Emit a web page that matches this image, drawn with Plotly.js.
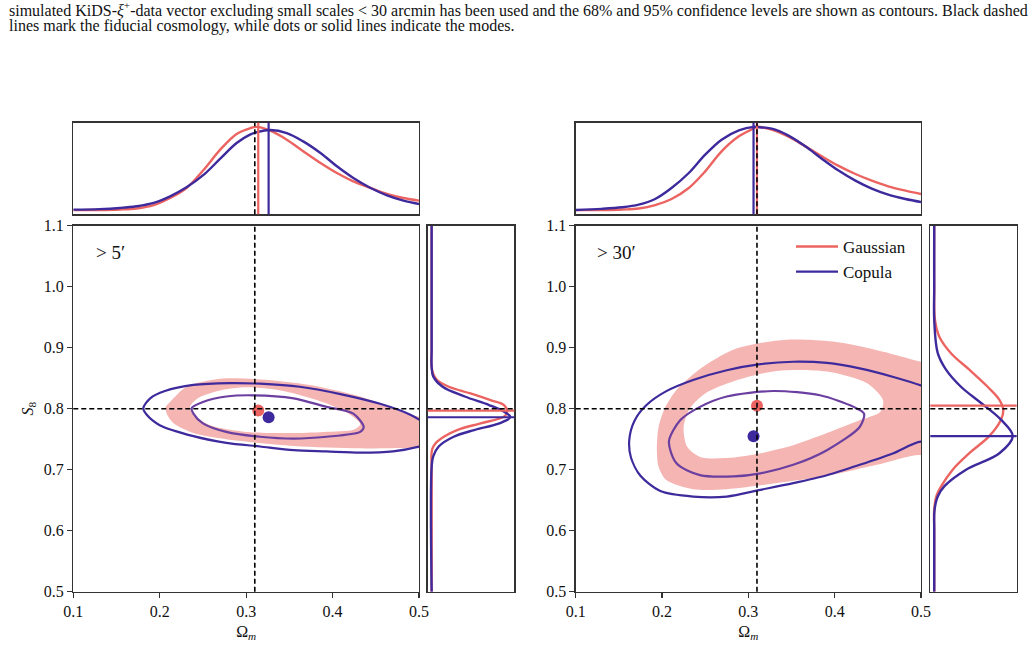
<!DOCTYPE html>
<html><head><meta charset="utf-8">
<script src="https://cdn.plot.ly/plotly-3.0.1.min.js"></script>
<style>html,body{margin:0;padding:0;background:#fff;}#chart{width:1035px;height:667px;}</style>
</head><body><div id="chart"></div>
<script>
// ---------- shared ----------
const omTicks = [0.1, 0.2, 0.3, 0.4, 0.5];
const omTickText = ['0.1', '0.2', '0.3', '0.4', '0.5'];
const s8Ticks = [0.5, 0.6, 0.7, 0.8, 0.9, 1.0, 1.1];
const s8TickText = ['0.5', '0.6', '0.7', '0.8', '0.9', '1.0', '1.1'];
const fiducialOm = 0.31;
const fiducialS8 = 0.80;
const panelLabels = ['&gt; 5′', '&gt; 30′'];
const seriesNames = ['Gaussian', 'Copula'];

// ---------- left panel (> 5') ----------
const L_modeGauss = [0.314, 0.797];
const L_modeCopula = [0.326, 0.786];
// top marginal (Omega_m)
const L_topOm = [0.10, 0.13, 0.154, 0.173, 0.193, 0.212, 0.231, 0.251, 0.270, 0.289, 0.305, 0.312, 0.328, 0.347, 0.366, 0.386, 0.405, 0.424, 0.444, 0.463, 0.482, 0.50];
const L_topGauss = [0.0, 0.002, 0.008, 0.02, 0.06, 0.146, 0.266, 0.486, 0.726, 0.914, 0.986, 1.0, 0.954, 0.846, 0.707, 0.566, 0.446, 0.346, 0.266, 0.194, 0.146, 0.114];
const L_topCopula = [0.006, 0.012, 0.026, 0.046, 0.086, 0.166, 0.274, 0.426, 0.618, 0.806, 0.91, 0.935, 0.962, 0.926, 0.826, 0.686, 0.526, 0.386, 0.266, 0.178, 0.114, 0.074];
// right marginal (S8)
const L_sideS8Gauss = [0.5, 0.70, 0.733, 0.743, 0.754, 0.765, 0.776, 0.787, 0.795, 0.806, 0.814, 0.825, 0.836, 0.847, 0.864, 0.90, 1.1];
const L_sideGauss = [0, 0, 0.005, 0.048, 0.154, 0.323, 0.622, 0.919, 0.96, 0.919, 0.749, 0.494, 0.218, 0.069, 0.005, 0, 0];
const L_sideS8Copula = [0.5, 0.705, 0.722, 0.738, 0.754, 0.765, 0.776, 0.786, 0.795, 0.806, 0.82, 0.836, 0.853, 0.869, 0.90, 1.1];
const L_sideCopula = [0, 0, 0.02, 0.09, 0.28, 0.54, 0.86, 1.0, 0.92, 0.73, 0.42, 0.14, 0.02, 0, 0, 0];
// contours (closed paths)
const L_gauss95Om = [0.316, 0.374, 0.432, 0.486, 0.507, 0.507, 0.50, 0.432, 0.355, 0.277, 0.239, 0.216, 0.208, 0.207, 0.212, 0.231, 0.270, 0.316];
const L_gauss95S8 = [0.848, 0.839, 0.820, 0.792, 0.781, 0.732, 0.735, 0.735, 0.739, 0.750, 0.760, 0.776, 0.792, 0.803, 0.811, 0.836, 0.849, 0.848];
const L_gauss68Om = [0.300, 0.340, 0.380, 0.415, 0.432, 0.425, 0.390, 0.350, 0.300, 0.260, 0.240, 0.235, 0.245, 0.270, 0.300];
const L_gauss68S8 = [0.835, 0.830, 0.815, 0.795, 0.775, 0.766, 0.762, 0.760, 0.762, 0.772, 0.788, 0.803, 0.818, 0.830, 0.835];
const L_cop95Om = [0.316, 0.362, 0.409, 0.455, 0.490, 0.513, 0.515, 0.50, 0.470, 0.432, 0.393, 0.355, 0.316, 0.277, 0.239, 0.200, 0.185, 0.181, 0.189, 0.206, 0.239, 0.281, 0.316];
const L_cop95S8 = [0.841, 0.836, 0.824, 0.808, 0.790, 0.768, 0.745, 0.738, 0.730, 0.728, 0.730, 0.732, 0.738, 0.744, 0.755, 0.773, 0.790, 0.801, 0.817, 0.829, 0.839, 0.842, 0.841];
const L_cop68Om = [0.308, 0.355, 0.393, 0.424, 0.436, 0.432, 0.393, 0.355, 0.316, 0.277, 0.250, 0.239, 0.237, 0.250, 0.277, 0.308];
const L_cop68S8 = [0.822, 0.817, 0.803, 0.792, 0.770, 0.762, 0.754, 0.751, 0.754, 0.762, 0.776, 0.792, 0.801, 0.811, 0.820, 0.822];

// ---------- right panel (> 30') ----------
const R_modeGauss = [0.310, 0.805];
const R_modeCopula = [0.306, 0.755];
const R_topOm = [0.10, 0.13, 0.154, 0.173, 0.192, 0.211, 0.231, 0.250, 0.269, 0.289, 0.306, 0.310, 0.327, 0.346, 0.366, 0.385, 0.404, 0.424, 0.443, 0.462, 0.482, 0.50];
const R_topGauss = [0.0, 0.002, 0.008, 0.02, 0.06, 0.134, 0.266, 0.466, 0.706, 0.886, 0.98, 1.0, 0.966, 0.886, 0.766, 0.646, 0.534, 0.434, 0.354, 0.286, 0.234, 0.194];
const R_topCopula = [0.002, 0.015, 0.034, 0.066, 0.134, 0.266, 0.446, 0.666, 0.846, 0.958, 1.0, 0.998, 0.978, 0.898, 0.766, 0.618, 0.478, 0.354, 0.258, 0.186, 0.134, 0.098];
const R_sideS8Gauss = [0.5, 0.60, 0.634, 0.656, 0.673, 0.700, 0.727, 0.755, 0.782, 0.798, 0.815, 0.836, 0.864, 0.891, 0.918, 0.945, 1.0, 1.1];
const R_sideGauss = [0, 0, 0, 0.026, 0.09, 0.235, 0.447, 0.70, 0.85, 0.879, 0.828, 0.68, 0.447, 0.213, 0.065, 0.01, 0, 0];
const R_sideS8Copula = [0.5, 0.60, 0.634, 0.656, 0.673, 0.700, 0.727, 0.755, 0.782, 0.809, 0.836, 0.864, 0.891, 0.945, 1.0, 1.1];
const R_sideCopula = [0, 0, 0.004, 0.045, 0.13, 0.405, 0.83, 1.0, 0.85, 0.6, 0.34, 0.15, 0.045, 0, 0, 0];
const R_gauss95Om = [0.344, 0.398, 0.449, 0.50, 0.52, 0.52, 0.50, 0.449, 0.391, 0.333, 0.275, 0.236, 0.205, 0.196, 0.194, 0.196, 0.203, 0.217, 0.248, 0.287, 0.344];
const R_gauss95S8 = [0.913, 0.910, 0.896, 0.877, 0.870, 0.710, 0.724, 0.708, 0.690, 0.678, 0.668, 0.668, 0.683, 0.705, 0.732, 0.770, 0.800, 0.831, 0.869, 0.899, 0.913];
const R_gauss68Om = [0.333, 0.391, 0.437, 0.456, 0.453, 0.429, 0.391, 0.352, 0.314, 0.275, 0.244, 0.229, 0.225, 0.232, 0.250, 0.283, 0.333];
const R_gauss68S8 = [0.862, 0.861, 0.842, 0.814, 0.795, 0.781, 0.760, 0.740, 0.727, 0.719, 0.721, 0.738, 0.770, 0.800, 0.825, 0.845, 0.862];
const R_cop95Om = [0.352, 0.391, 0.429, 0.468, 0.50, 0.53, 0.53, 0.50, 0.468, 0.429, 0.391, 0.352, 0.314, 0.275, 0.236, 0.198, 0.175, 0.164, 0.162, 0.168, 0.182, 0.204, 0.236, 0.275, 0.314, 0.352];
const R_cop95S8 = [0.877, 0.875, 0.866, 0.852, 0.838, 0.820, 0.735, 0.746, 0.727, 0.708, 0.691, 0.678, 0.667, 0.656, 0.656, 0.665, 0.690, 0.720, 0.748, 0.780, 0.806, 0.828, 0.847, 0.863, 0.873, 0.877];
const R_cop68Om = [0.329, 0.383, 0.422, 0.434, 0.429, 0.391, 0.352, 0.314, 0.283, 0.244, 0.217, 0.208, 0.221, 0.244, 0.275, 0.329];
const R_cop68S8 = [0.829, 0.822, 0.803, 0.792, 0.770, 0.732, 0.708, 0.694, 0.689, 0.691, 0.710, 0.746, 0.781, 0.803, 0.820, 0.829];

// ---------- styles ----------
const RED = '#EC6461';
const PURPLE = '#3E2A9C';
const PURPLE68 = '#6B3FA0';
const PINK = '#F4B5B3';
const FONT = 'Liberation Serif, Times New Roman, serif';
const DASH = '5px,3px';

function mainTraces(xa, ya, g95o, g95s, g68o, g68s, c95o, c95s, c68o, c68s, mG, mC) {
  return [
    {x: g95o, y: g95s, xaxis: xa, yaxis: ya, mode: 'lines', fill: 'toself', fillcolor: PINK,
     line: {width: 0, color: PINK, shape: 'spline', smoothing: 0.8}, showlegend: false, hoverinfo: 'skip'},
    {x: g68o, y: g68s, xaxis: xa, yaxis: ya, mode: 'lines', fill: 'toself', fillcolor: '#ffffff',
     line: {width: 0, color: '#ffffff', shape: 'spline', smoothing: 0.8}, showlegend: false, hoverinfo: 'skip'},
    {x: c95o, y: c95s, xaxis: xa, yaxis: ya, mode: 'lines',
     line: {width: 2.2, color: PURPLE, shape: 'spline', smoothing: 0.8}, showlegend: false, hoverinfo: 'skip'},
    {x: c68o, y: c68s, xaxis: xa, yaxis: ya, mode: 'lines',
     line: {width: 2.2, color: PURPLE68, shape: 'spline', smoothing: 0.8}, showlegend: false, hoverinfo: 'skip'},
    {x: [mG[0]], y: [mG[1]], xaxis: xa, yaxis: ya, mode: 'markers',
     marker: {size: 12, color: RED}, showlegend: false, hoverinfo: 'skip'},
    {x: [mC[0]], y: [mC[1]], xaxis: xa, yaxis: ya, mode: 'markers',
     marker: {size: 12, color: PURPLE}, showlegend: false, hoverinfo: 'skip'}
  ];
}
function topTraces(xa, ya, om, g, c, legend) {
  return [
    {x: om, y: g, xaxis: xa, yaxis: ya, mode: 'lines', name: seriesNames[0],
     line: {width: 2.4, color: RED, shape: 'spline'}, showlegend: legend, hoverinfo: 'skip'},
    {x: om, y: c, xaxis: xa, yaxis: ya, mode: 'lines', name: seriesNames[1],
     line: {width: 2.4, color: PURPLE, shape: 'spline'}, showlegend: legend, hoverinfo: 'skip'}
  ];
}
function sideTraces(xa, ya, sg, g, sc, c) {
  return [
    {x: g, y: sg, xaxis: xa, yaxis: ya, mode: 'lines', line: {width: 2.4, color: RED, shape: 'spline'}, showlegend: false, hoverinfo: 'skip'},
    {x: c, y: sc, xaxis: xa, yaxis: ya, mode: 'lines', line: {width: 2.4, color: PURPLE, shape: 'spline'}, showlegend: false, hoverinfo: 'skip'}
  ];
}

const data = [].concat(
  mainTraces('x', 'y', L_gauss95Om, L_gauss95S8, L_gauss68Om, L_gauss68S8, L_cop95Om, L_cop95S8, L_cop68Om, L_cop68S8, L_modeGauss, L_modeCopula),
  topTraces('x2', 'y2', L_topOm, L_topGauss, L_topCopula, false),
  sideTraces('x3', 'y3', L_sideS8Gauss, L_sideGauss, L_sideS8Copula, L_sideCopula),
  mainTraces('x4', 'y4', R_gauss95Om, R_gauss95S8, R_gauss68Om, R_gauss68S8, R_cop95Om, R_cop95S8, R_cop68Om, R_cop68S8, R_modeGauss, R_modeCopula),
  topTraces('x5', 'y5', R_topOm, R_topGauss, R_topCopula, true),
  sideTraces('x6', 'y6', R_sideS8Gauss, R_sideGauss, R_sideS8Copula, R_sideCopula)
);

// shapes: fiducial dashed and mode lines
const shapes = [];
function vline(xa, ya, x, color, dash, w) {
  shapes.push({type: 'line', xref: xa, yref: ya + ' domain', x0: x, x1: x, y0: 0, y1: 1, line: {color: color, width: w, dash: dash}});
}
function hline(xa, ya, y, color, dash, w) {
  shapes.push({type: 'line', xref: xa + ' domain', yref: ya, x0: 0, x1: 1, y0: y, y1: y, line: {color: color, width: w, dash: dash}});
}
// left
vline('x2', 'y2', L_modeGauss[0], RED, 'solid', 2.2);
vline('x2', 'y2', L_modeCopula[0], PURPLE, 'solid', 2.2);
vline('x2', 'y2', fiducialOm, '#000', DASH, 1.6);
hline('x3', 'y3', L_modeGauss[1], RED, 'solid', 2.2);
hline('x3', 'y3', L_modeCopula[1], PURPLE, 'solid', 2.2);
hline('x3', 'y3', fiducialS8, '#000', DASH, 1.6);
vline('x', 'y', fiducialOm, '#000', DASH, 1.6);
hline('x', 'y', fiducialS8, '#000', DASH, 1.6);
// right
vline('x5', 'y5', R_modeGauss[0], RED, 'solid', 2.2);
vline('x5', 'y5', R_modeCopula[0], PURPLE, 'solid', 2.2);
vline('x5', 'y5', fiducialOm, '#000', DASH, 1.6);
hline('x6', 'y6', R_modeGauss[1], RED, 'solid', 2.2);
hline('x6', 'y6', R_modeCopula[1], PURPLE, 'solid', 2.2);
hline('x6', 'y6', fiducialS8, '#000', DASH, 1.6);
vline('x4', 'y4', fiducialOm, '#000', DASH, 1.6);
hline('x4', 'y4', fiducialS8, '#000', DASH, 1.6);

const W = 1035, H = 667;
const px = v => v / W;
const py = v => 1 - v / H;
const frame = {showline: true, mirror: true, linecolor: '#333', linewidth: 1.3, showgrid: false, zeroline: false, fixedrange: true};
const tickfont = {family: FONT, size: 16, color: '#111'};
function mainX(dom, anchor) {
  return Object.assign({}, frame, {domain: dom, anchor: anchor, range: [0.1, 0.5], tickvals: omTicks, ticktext: omTickText,
    ticks: 'outside', ticklen: 5, tickwidth: 1.2, tickcolor: '#333', tickfont: tickfont,
    title: {text: 'Ω<sub><i>m</i></sub>', font: {family: FONT, size: 16, color: '#111'}, standoff: 6}});
}
function mainY(dom, anchor, withTitle) {
  const o = Object.assign({}, frame, {domain: dom, anchor: anchor, range: [0.5, 1.1], tickvals: s8Ticks, ticktext: s8TickText,
    ticks: 'outside', ticklen: 5, tickwidth: 1.2, tickcolor: '#333', tickfont: tickfont});
  if (withTitle) o.title = {text: '<i>S</i><sub>8</sub>', font: {family: FONT, size: 16, color: '#111'}, standoff: 6};
  return o;
}
function bare(dom, anchor, range) {
  return Object.assign({}, frame, {domain: dom, anchor: anchor, range: range, showticklabels: false, ticks: ''});
}
const mainYdom = [py(591.7), py(225.7)];
const topYdom = [py(214.3), py(122.7)];
const LXdom = [px(73.3), px(419)];
const LSdom = [px(427.7), px(514.3)];
const RXdom = [px(575.7), px(921)];
const RSdom = [px(930.3), px(1016.7)];

const layout = {
  width: W, height: H, margin: {l: 0, r: 0, t: 0, b: 0}, paper_bgcolor: '#fff', plot_bgcolor: '#fff',
  font: {family: FONT, color: '#111'},
  xaxis: mainX(LXdom, 'y'), yaxis: mainY(mainYdom, 'x', true),
  xaxis2: bare(LXdom, 'y2', [0.1, 0.5]), yaxis2: bare(topYdom, 'x2', [-0.05, 1.05]),
  xaxis3: bare(LSdom, 'y3', [-0.05, 1.05]), yaxis3: bare(mainYdom, 'x3', [0.5, 1.1]),
  xaxis4: mainX(RXdom, 'y4'), yaxis4: mainY(mainYdom, 'x4', false),
  xaxis5: bare(RXdom, 'y5', [0.1, 0.5]), yaxis5: bare(topYdom, 'x5', [-0.05, 1.05]),
  xaxis6: bare(RSdom, 'y6', [-0.05, 1.05]), yaxis6: bare(mainYdom, 'x6', [0.5, 1.1]),
  shapes: shapes,
  showlegend: true,
  legend: {x: px(791), y: py(229), xanchor: 'left', yanchor: 'top', bgcolor: 'rgba(0,0,0,0)', borderwidth: 0,
    font: {family: FONT, size: 17, color: '#111'}, itemwidth: 42, tracegroupgap: 0},
  annotations: [
    {xref: 'paper', yref: 'paper', x: px(7), y: py(9.5), xanchor: 'left', yanchor: 'middle', showarrow: false,
     text: 'simulated KiDS-<i>ξ</i><sup>+</sup>-data vector excluding small scales &lt; 30 arcmin has been used and the 68% and 95% confidence levels are shown as contours. Black dashed',
     font: {family: FONT, size: 16, color: '#111'}},
    {xref: 'paper', yref: 'paper', x: px(7), y: py(26), xanchor: 'left', yanchor: 'middle', showarrow: false,
     text: 'lines mark the fiducial cosmology, while dots or solid lines indicate the modes.',
     font: {family: FONT, size: 16, color: '#111'}},
    {xref: 'x domain', yref: 'y domain', x: 0.06, y: 0.928, xanchor: 'left', yanchor: 'middle', showarrow: false,
     text: panelLabels[0], font: {family: FONT, size: 19, color: '#111'}},
    {xref: 'x4 domain', yref: 'y4 domain', x: 0.055, y: 0.928, xanchor: 'left', yanchor: 'middle', showarrow: false,
     text: panelLabels[1], font: {family: FONT, size: 19, color: '#111'}}
  ]
};

Plotly.newPlot('chart', data, layout, {displayModeBar: false, staticPlot: true});
</script>
</body></html>
